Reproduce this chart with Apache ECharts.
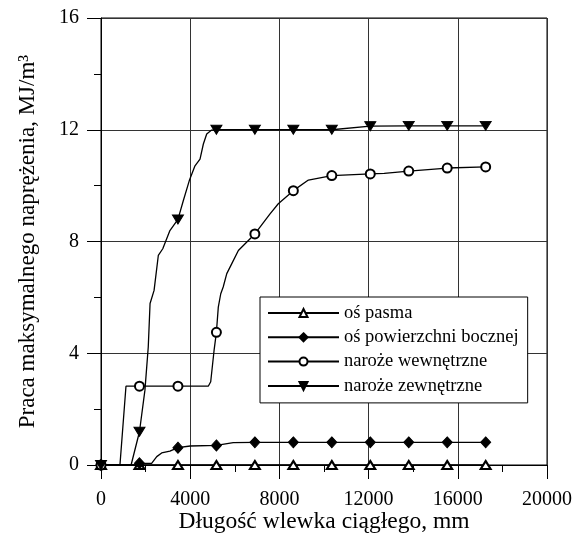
<!DOCTYPE html>
<html>
<head>
<meta charset="utf-8">
<script src="https://cdn.jsdelivr.net/npm/echarts@6/dist/echarts.min.js"></script>
<style>
  html, body { margin: 0; padding: 0; background: #fff; }
  #chart { width: 575px; height: 533px; }
</style>
</head>
<body>
<div id="chart"></div>
<script>
// legend names
var seriesNames = ['oś pasma', 'oś powierzchni bocznej', 'naroże wewnętrzne', 'naroże zewnętrzne']
// x positions where markers are drawn
var markerX = [0, 1725, 3450, 5175, 6900, 8625, 10350, 12075, 13800, 15525, 17250]

var osPasmaX = [0, 1725, 3450, 5175, 6900, 8625, 10350, 12075, 13800, 15525, 17250]
var osPasmaY = [0, 0, 0, 0, 0, 0, 0, 0, 0, 0, 0]

var osBocznaX = [0, 1500, 1725, 2270, 2500, 2720, 3090, 3450, 4000, 5175, 5930, 6900, 8625, 10350, 12075, 13800, 15525, 17250]
var osBocznaY = [0, 0, 0.06, 0.06, 0.3, 0.43, 0.5, 0.62, 0.68, 0.7, 0.8, 0.81, 0.81, 0.81, 0.81, 0.81, 0.81, 0.81]

var narozeWewX = [0, 850, 1120, 1725, 3450, 4810, 4920, 5070, 5175, 5260, 5370, 5480, 5640, 5860, 6160, 6900, 7580, 7950, 8625, 9300, 10350, 12075, 12700, 13800, 15525, 17250]
var narozeWewY = [0, 0, 2.82, 2.82, 2.82, 2.82, 2.98, 4.1, 4.75, 5.65, 6.13, 6.37, 6.85, 7.2, 7.68, 8.27, 8.99, 9.35, 9.82, 10.2, 10.36, 10.42, 10.44, 10.52, 10.63, 10.67]

var narozeZewX = [0, 1350, 1725, 1970, 2120, 2200, 2380, 2570, 2770, 3090, 3450, 3690, 3960, 4215, 4440, 4590, 4740, 4960, 5175, 6900, 8625, 10350, 12075, 13800, 15525, 17250]
var narozeZewY = [0, 0, 1.19, 2.68, 4.23, 5.78, 6.25, 7.5, 7.74, 8.39, 8.79, 9.46, 10.18, 10.71, 10.95, 11.49, 11.85, 11.99, 12.0, 12.0, 12.0, 12.0, 12.13, 12.14, 12.14, 12.14]

var xTicks = [0, 4000, 8000, 12000, 16000, 20000]
var yTicks = [0, 4, 8, 12, 16]

var font = 'Liberation Serif'

function buildData(xs, ys) {
  return xs.map(function (x, i) {
    var item = { value: [x, ys[i]] }
    if (markerX.indexOf(x) < 0) item.symbol = 'none'
    return item
  })
}

function lineSeries(name, xs, ys, symbol, size) {
  return {
    name: name,
    type: 'line',
    data: buildData(xs, ys),
    symbol: symbol,
    symbolSize: size,
    showAllSymbol: true,
    lineStyle: { color: '#000', width: 1.3 },
    itemStyle: { color: '#000', borderColor: '#000', borderWidth: 1 },
    emphasis: { disabled: true }
  }
}

var chart = echarts.init(document.getElementById('chart'))
chart.setOption({
  animation: false,
  backgroundColor: '#fff',
  textStyle: { fontFamily: font, color: '#000' },
  grid: {
    left: 101,
    top: 18,
    right: 28,
    bottom: 68,
    containLabel: false,
    outerBoundsMode: 'none',
    show: true,
    borderColor: '#000',
    borderWidth: 1,
    backgroundColor: 'transparent'
  },
  legend: {
    orient: 'vertical',
    left: 260,
    top: 297,
    data: seriesNames,
    itemWidth: 71,
    itemHeight: 10,
    itemGap: 4.3,
    padding: [6, 9, 7, 7],
    borderColor: '#000',
    borderWidth: 1,
    backgroundColor: '#fff',
    textStyle: { fontFamily: font, fontSize: 18.5, color: '#000', lineHeight: 20 },
    selectedMode: false
  },
  xAxis: {
    type: 'value',
    min: xTicks[0],
    max: xTicks[xTicks.length - 1],
    interval: 4000,
    name: 'Długość wlewka ciągłego, mm',
    nameLocation: 'middle',
    nameGap: 45,
    nameMoveOverlap: false,
    nameTextStyle: { fontFamily: font, fontSize: 23.5, color: '#000' },
    axisLine: { show: true, onZero: false, lineStyle: { color: '#000', width: 1 } },
    axisTick: { show: true, length: 14, lineStyle: { color: '#000' } },
    minorTick: { show: true, splitNumber: 2, length: 7, lineStyle: { color: '#000' } },
    axisLabel: {
      fontFamily: font, fontSize: 20, color: '#000', margin: 25,
      formatter: function (v) { return String(v) }
    },
    splitLine: { show: true, lineStyle: { color: '#333', width: 1 } }
  },
  yAxis: {
    type: 'value',
    min: yTicks[0],
    max: yTicks[yTicks.length - 1],
    interval: 4,
    name: 'Praca maksymalnego naprężenia, MJ/m³',
    nameLocation: 'middle',
    nameGap: 62,
    nameMoveOverlap: false,
    nameTextStyle: { fontFamily: font, fontSize: 23, color: '#000' },
    axisLine: { show: true, onZero: false, lineStyle: { color: '#000', width: 1 } },
    axisTick: { show: true, length: 14, lineStyle: { color: '#000' } },
    minorTick: { show: true, splitNumber: 2, length: 7, lineStyle: { color: '#000' } },
    axisLabel: {
      fontFamily: font, fontSize: 20, color: '#000', margin: 22,
      formatter: function (v) { return String(v) }
    },
    splitLine: { show: true, lineStyle: { color: '#333', width: 1 } }
  },
  series: [
    lineSeries(seriesNames[0], osPasmaX, osPasmaY, 'emptyTriangle', [10, 8]),
    lineSeries(seriesNames[1], osBocznaX, osBocznaY, 'diamond', [10, 11]),
    lineSeries(seriesNames[2], narozeWewX, narozeWewY, 'emptyCircle', 9),
    lineSeries(seriesNames[3], narozeZewX, narozeZewY, 'path://M0,0L2,0L1,1.6Z', [11, 9])
  ]
})
</script>
</body>
</html>
